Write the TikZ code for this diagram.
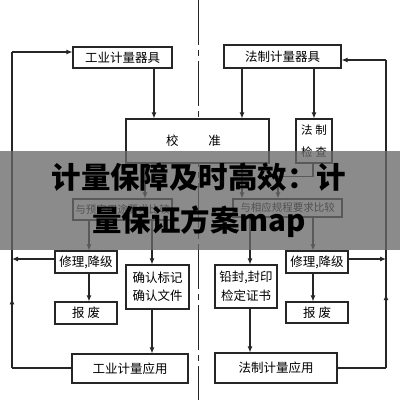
\documentclass[tikz,border=0pt]{standalone}
\usepackage{fontspec}
\setmainfont{Noto Sans CJK SC}
\usetikzlibrary{arrows.meta,decorations.markings}
\begin{document}
\begin{tikzpicture}[x=1pt,y=-1pt,
  box/.style={draw=black!85, line width=1.1pt, fill=white, inner sep=0pt, align=center, font=\fontsize{12.5}{15}\selectfont},
  cmpbox/.style={box, font=\fontsize{10.5}{12}\selectfont},
  arr/.style={draw=black!85, line width=1.1pt, -{Latex[length=6pt,width=5pt]}},
  ln/.style={draw=black!85, line width=1.1pt},
  midup/.style={postaction={decorate}, decoration={markings, mark=at position #1 with {\arrow{Latex[length=6pt,width=5pt]}}}},
]
\useasboundingbox (0,0) rectangle (400,402);
\fill[white] (0,0) rectangle (400,402);
% centre dividing line
\coordinate (ctop) at (198,0);
\coordinate (cbot) at (198,400);
\draw[ln, line width=0.9pt, dash pattern=on 45pt off 5pt on 6pt off 5pt] (ctop) -- (cbot);

% nodes
\node[box, minimum width=99pt, minimum height=21pt] (gjq) at (122.5,57.5) {工业计量器具};
\node[box, minimum width=117pt, minimum height=23pt] (fjq) at (282.5,56.5) {法制计量器具};
\node[box, minimum width=143pt, minimum height=44pt] (jz) at (197.5,141) {\hspace*{-8pt}校\hspace{30pt}准};
\node[box, minimum width=36pt, minimum height=44pt, font=\fontsize{11.5}{22}\selectfont] (fzjc) at (314,141) {法\hspace{3pt}制\\检\hspace{3pt}查};
\node[cmpbox, minimum width=99pt, minimum height=21pt] (cmpL) at (122.5,209.5) {与预定用途要求比较};
\node[cmpbox, minimum width=109pt, minimum height=18pt] (cmpR) at (287.5,208) {与相应规程要求比较};
\node[box, minimum width=62pt, minimum height=22pt] (repL) at (86,262) {修理,降级};
\node[box, minimum width=62pt, minimum height=22pt] (scrL) at (86,313) {报\hspace{3pt}废};
\node[box, minimum width=63pt, minimum height=44pt, font=\fontsize{12.5}{18}\selectfont] (conf) at (157.5,287) {确认标记\\确认文件};
\node[box, minimum width=116pt, minimum height=29pt] (appL) at (130,368.5) {工业计量应用};
\node[box, minimum width=62pt, minimum height=43pt, font=\fontsize{12.5}{19}\selectfont] (seal) at (246,286.5) {铅封,封印\\检定证书};
\node[box, minimum width=62pt, minimum height=22pt] (repR) at (317,262) {修理,降级};
\node[box, minimum width=62pt, minimum height=21pt] (scrR) at (317,312.5) {报\hspace{3pt}废};
\node[box, minimum width=122pt, minimum height=30pt] (appR) at (276,368) {法制计量应用};

% column coordinates
\coordinate (cA) at (154,0);
\coordinate (cB) at (242,0);
\coordinate (cC) at (314,0);
\coordinate (cD) at (145,0);
\coordinate (cE) at (89,0);
\coordinate (cF) at (152,0);
\coordinate (cG) at (250,0);
\coordinate (cH) at (313,0);
\coordinate (cI) at (278,0);

% connectors
\draw[arr] (gjq.south -| cA) -- (jz.north -| cA);
\draw[arr] (fjq.south -| cB) -- (jz.north -| cB);
\draw[arr] (fjq.south -| cC) -- (fzjc.north -| cC);
\draw[arr] (jz.south -| cD) -- (cmpL.north -| cD);
\draw[arr] (jz.south -| cB) -- (cmpR.north -| cB);
\draw[arr] (fzjc.south -| cH) -- ++(0,13) -| (cmpR.north -| cI);
\draw[arr] (cmpL.south -| cE) -- (repL.north -| cE);
\draw[arr] (repL.south -| cE) -- (scrL.north -| cE);
\draw[arr] (cmpL.south -| cF) -- (conf.north -| cF);
\draw[arr] (conf.south -| cF) -- (appL.north -| cF);
\draw[arr] (cmpR.south -| cG) -- (seal.north -| cG);
\draw[arr] (seal.south -| cG) -- (appR.north -| cG);
\draw[arr] (cmpR.south -| cH) -- (repR.north -| cH);
\draw[arr] (repR.south -| cH) -- (scrR.north -| cH);

% feedback loops
\coordinate (Lb) at (12,368);
\coordinate (Lt) at (12,52);
\coordinate (Lj) at (12,259);
\coordinate (Rb) at (386,368);
\coordinate (Rt) at (386,60);
\coordinate (Rj) at (386,259);
\draw[ln] (appL.west |- Lb) -- (Lb);
\draw[ln, midup=0.22] (Lb) -- (Lt);
\draw[arr] (Lt) -- (gjq.west |- Lt);
\draw[arr] (repL.west |- Lj) -- (Lj);
\draw[ln] (appR.east |- Rb) -- (Rb);
\draw[ln, midup=0.24] (Rb) -- (Rt);
\draw[arr] (Rt) -- (fjq.east |- Rt);
\draw[arr] (repR.east |- Rj) -- (Rj);

% overlay band with title
\fill[black!59, opacity=0.77] (0,151) rectangle (400,250);
\node[font=\fontsize{29.5}{43}\selectfont\bfseries, align=center, text=black, inner sep=0pt] (title) at (199,200) {计量保障及时高效：计\\量保证方案map};
\end{tikzpicture}
\end{document}
